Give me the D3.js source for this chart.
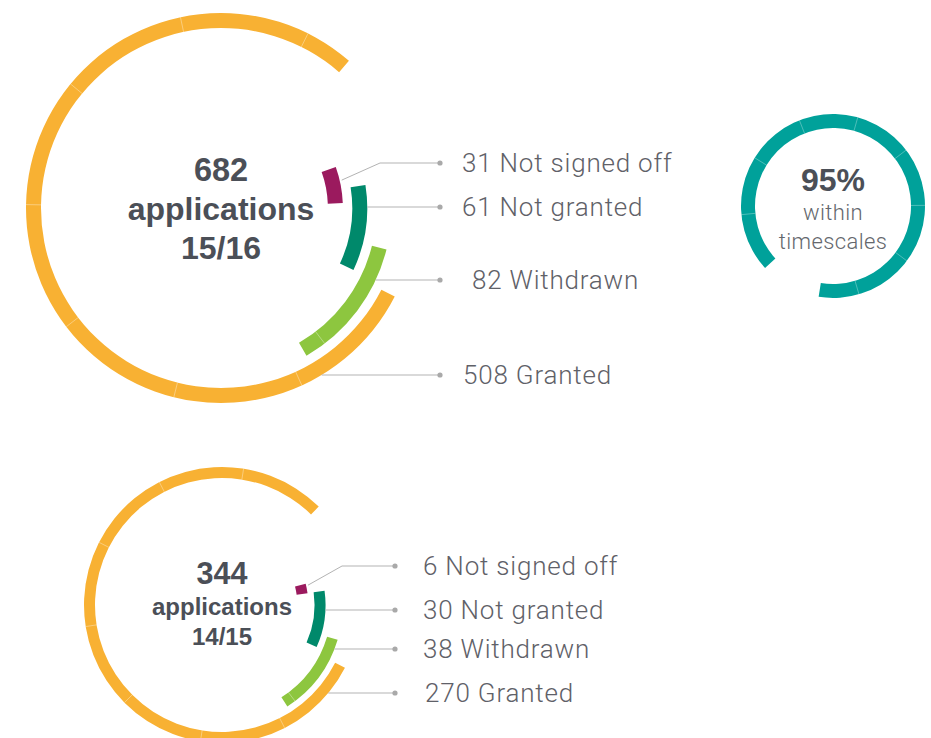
<!DOCTYPE html>
<html>
<head>
<meta charset="utf-8">
<script src="https://cdn.jsdelivr.net/npm/d3@7"></script>
<style>
  body { margin: 0; background: #fff; }
  svg { display: block; }
</style>
</head>
<body>
<div id="chart"></div>
<script>
// Planning applications: outcome rings for 15/16 and 14/15, plus timeliness ring

// ---- data ----
var categories = ["Not signed off", "Not granted", "Withdrawn", "Granted"];
var values1516 = [31, 61, 82, 508];
var values1415 = [6, 30, 38, 270];
var totals = [682, 344];
var years = ["15/16", "14/15"];
var timelyPct = [95];
var timelyLabel = ["within", "timescales"];

// ---- page ----
var width = 931, height = 738;
var svg = d3.select("#chart").append("svg")
  .attr("width", width)
  .attr("height", height);

var color = d3.scaleOrdinal()
  .domain(categories)
  .range(["#9b1a5e", "#00896b", "#8dc63f", "#f8b133"]);

var rad = Math.PI / 180;
var lineCol = "#b3b3b3";
var labelCol = "#5f6168";
var darkCol = "#4b4f57";

// layout for each ring chart (positions only, no values)
var layouts = [
  { cx: 221, cy: 208, R: 187.5, thick: 15, sweep: 284, step: 38.5,
    labelY: [163, 207, 280, 375], labelX: [462, 462, 472, 463], dotX: 440, bendX: 380,
    big: 32.5, small: 32, lines: [169, 208, 247] },
  { cx: 222, cy: 605, R: 132.5, thick: 11, sweep: 287.5, step: 36,
    labelY: [566, 610, 649, 693], labelX: [423, 423, 423, 425], dotX: 395, bendX: 342,
    big: 30.5, small: 24, lines: [573, 606, 636] }
];
var labelSize = 26;
// mid angles of the three small arcs, start angle of the granted arc (degrees)
var midAngles = [79, 98, 127];
var grantedStart = 117;

function drawRings(values, total, year, L) {
  var g = svg.append("g");

  var angle = d3.scaleLinear()
    .domain([0, values[3]])
    .range([0, L.sweep]);

  var radius = d3.scalePoint()
    .domain(categories)
    .range([L.R * 0.61, L.R]);

  var arcs = values.map(function(v, i) {
    var sw = angle(v);
    var a0 = i < 3 ? midAngles[i] - sw / 2 : grantedStart;
    return { cat: categories[i], value: v, a0: a0, a1: a0 + sw, r: radius(categories[i]) };
  });

  var arc = d3.arc()
    .innerRadius(function(d) { return d.r - L.thick / 2; })
    .outerRadius(function(d) { return d.r + L.thick / 2; })
    .startAngle(function(d) { return d.a0 * rad; })
    .endAngle(function(d) { return d.a1 * rad; });

  g.selectAll("path.ring")
    .data(arcs)
    .enter().append("path")
      .attr("class", "ring")
      .attr("transform", "translate(" + L.cx + "," + L.cy + ")")
      .attr("d", arc)
      .attr("fill", function(d) { return color(d.cat); });

  // faint seams along the longer arcs
  arcs.forEach(function(d) {
    for (var a = d.a0 + L.step; a < d.a1 - 4; a += L.step) {
      var s = Math.sin(a * rad), c = Math.cos(a * rad);
      g.append("line")
        .attr("x1", L.cx + (d.r - L.thick / 2) * s)
        .attr("y1", L.cy - (d.r - L.thick / 2) * c)
        .attr("x2", L.cx + (d.r + L.thick / 2) * s)
        .attr("y2", L.cy - (d.r + L.thick / 2) * c)
        .attr("stroke", "#fff")
        .attr("stroke-opacity", 0.35)
        .attr("stroke-width", 1);
    }
  });

  // leader lines, dots and labels
  arcs.forEach(function(d, i) {
    var y = L.labelY[i];
    var rOut = d.r + L.thick / 2;
    var pts;
    if (i === 0) {
      var a = 77 * rad;
      pts = [[L.cx + (rOut + 2) * Math.sin(a), L.cy - (rOut + 2) * Math.cos(a)],
             [L.bendX, y], [L.dotX, y]];
    } else {
      var x0 = L.cx + Math.sqrt(rOut * rOut - (y - L.cy) * (y - L.cy));
      pts = [[x0, y], [L.dotX, y]];
    }
    g.append("path")
      .attr("d", d3.line()(pts))
      .attr("fill", "none")
      .attr("stroke", lineCol)
      .attr("stroke-width", 1);
    g.append("circle")
      .attr("cx", L.dotX)
      .attr("cy", y)
      .attr("r", 2.6)
      .attr("fill", "#a9a9a9");
    g.append("text")
      .attr("x", L.labelX[i])
      .attr("y", y)
      .attr("dy", "0.35em")
      .style("font-family", "Roboto, 'Liberation Sans', sans-serif")
      .style("font-weight", 300)
      .style("font-size", labelSize + "px")
      .style("letter-spacing", "0.8px")
      .style("fill", labelCol)
      .text(d.value + " " + d.cat);
  });

  // centre text
  var centre = [
    { t: total, size: L.big },
    { t: "applications", size: L.small },
    { t: year, size: L.small }
  ];
  g.selectAll("text.centre")
    .data(centre)
    .enter().append("text")
      .attr("class", "centre")
      .attr("x", L.cx)
      .attr("y", function(d, i) { return L.lines[i]; })
      .attr("dy", "0.36em")
      .attr("text-anchor", "middle")
      .style("font-family", "'Liberation Sans', Arial, sans-serif")
      .style("font-weight", "bold")
      .style("font-size", function(d) { return d.size + "px"; })
      .style("fill", darkCol)
      .text(function(d) { return d.t; });
}

drawRings(values1516, totals[0], years[0], layouts[0]);
drawRings(values1415, totals[1], years[1], layouts[1]);

// ---- timeliness ring ----
var T = { cx: 833, cy: 206, r: 85, thick: 14, start: 227.6, step: 37 };
var pctAngle = d3.scaleLinear().domain([0, 100]).range([0, 338.3]);
var tg = svg.append("g");
var tArc = { a0: T.start, a1: T.start + pctAngle(timelyPct[0]) };

tg.append("path")
  .attr("transform", "translate(" + T.cx + "," + T.cy + ")")
  .attr("d", d3.arc()
    .innerRadius(T.r - T.thick / 2)
    .outerRadius(T.r + T.thick / 2)
    .startAngle(tArc.a0 * rad)
    .endAngle(tArc.a1 * rad)())
  .attr("fill", "#00a19a");

for (var a = tArc.a0 + T.step; a < tArc.a1 - 4; a += T.step) {
  var s = Math.sin(a * rad), c = Math.cos(a * rad);
  tg.append("line")
    .attr("x1", T.cx + (T.r - T.thick / 2) * s)
    .attr("y1", T.cy - (T.r - T.thick / 2) * c)
    .attr("x2", T.cx + (T.r + T.thick / 2) * s)
    .attr("y2", T.cy - (T.r + T.thick / 2) * c)
    .attr("stroke", "#fff")
    .attr("stroke-opacity", 0.3)
    .attr("stroke-width", 1);
}

tg.append("text")
  .attr("x", T.cx)
  .attr("y", 179)
  .attr("dy", "0.36em")
  .attr("text-anchor", "middle")
  .style("font-family", "'Liberation Sans', Arial, sans-serif")
  .style("font-weight", "bold")
  .style("font-size", "32px")
  .style("fill", darkCol)
  .text(timelyPct[0] + "%");

tg.selectAll("text.sub")
  .data(timelyLabel)
  .enter().append("text")
    .attr("class", "sub")
    .attr("x", T.cx)
    .attr("y", function(d, i) { return [212, 241][i]; })
    .attr("dy", "0.36em")
    .attr("text-anchor", "middle")
    .style("font-family", "Roboto, 'Liberation Sans', sans-serif")
    .style("font-weight", 300)
    .style("font-size", "22px")
    .style("letter-spacing", "0.4px")
    .style("fill", "#64676d")
    .text(function(d) { return d; });
</script>
</body>
</html>
